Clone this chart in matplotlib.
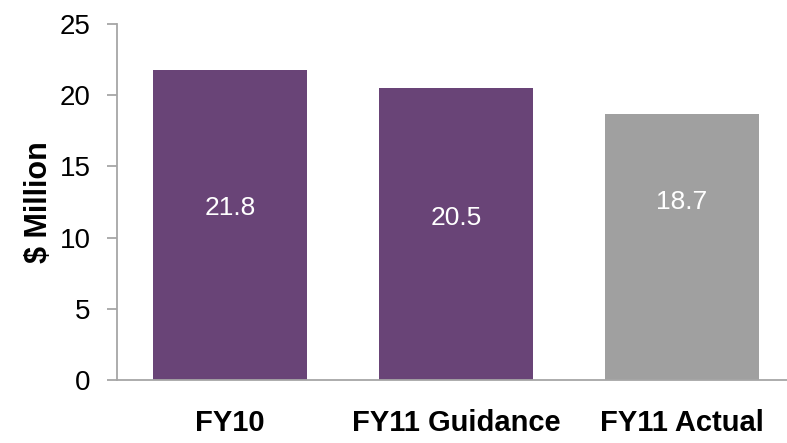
import matplotlib
matplotlib.use("Agg")
from matplotlib import pyplot as plt

# chart data
categories = ["FY10", "FY11 Guidance", "FY11 Actual"]
values = [21.8, 20.5, 18.7]
label_y = [12.1, 11.4, 12.5]  # where the value text sits inside each bar
colors = ["#694477", "#694477", "#A0A0A0"]

plt.rcParams['font.family'] = ['Liberation Sans', 'DejaVu Sans']

fig = plt.figure(figsize=(7.87, 4.43), dpi=100)
ax = fig.add_axes([117/787, 1 - 380/443, 678/787, 356/443])

x = range(len(categories))
ax.bar(x, values, width=0.68, color=colors)

for i, v in enumerate(values):
    ax.text(i, label_y[i], "{:.1f}".format(v), color="white", fontsize=19,
            ha="center", va="center")

ax.set_xlim(-0.5, 2.5)
ax.set_ylim(0, 25)
ax.set_yticks([0, 5, 10, 15, 20, 25])
ax.set_xticks(list(x))
ax.set_xticklabels(categories, fontsize=21, fontweight="bold")
ax.tick_params(axis="x", length=0, pad=21)
ax.tick_params(axis="y", labelsize=20, length=7, width=1.3, color="#A6A6A6", pad=12)
ax.set_ylabel("$ Million", fontsize=22, fontweight="bold", labelpad=4)

for side in ["top", "right"]:
    ax.spines[side].set_visible(False)
for side in ["left", "bottom"]:
    ax.spines[side].set_color("#A6A6A6")
    ax.spines[side].set_linewidth(1.3)

fig.savefig("out.png", dpi=100)
